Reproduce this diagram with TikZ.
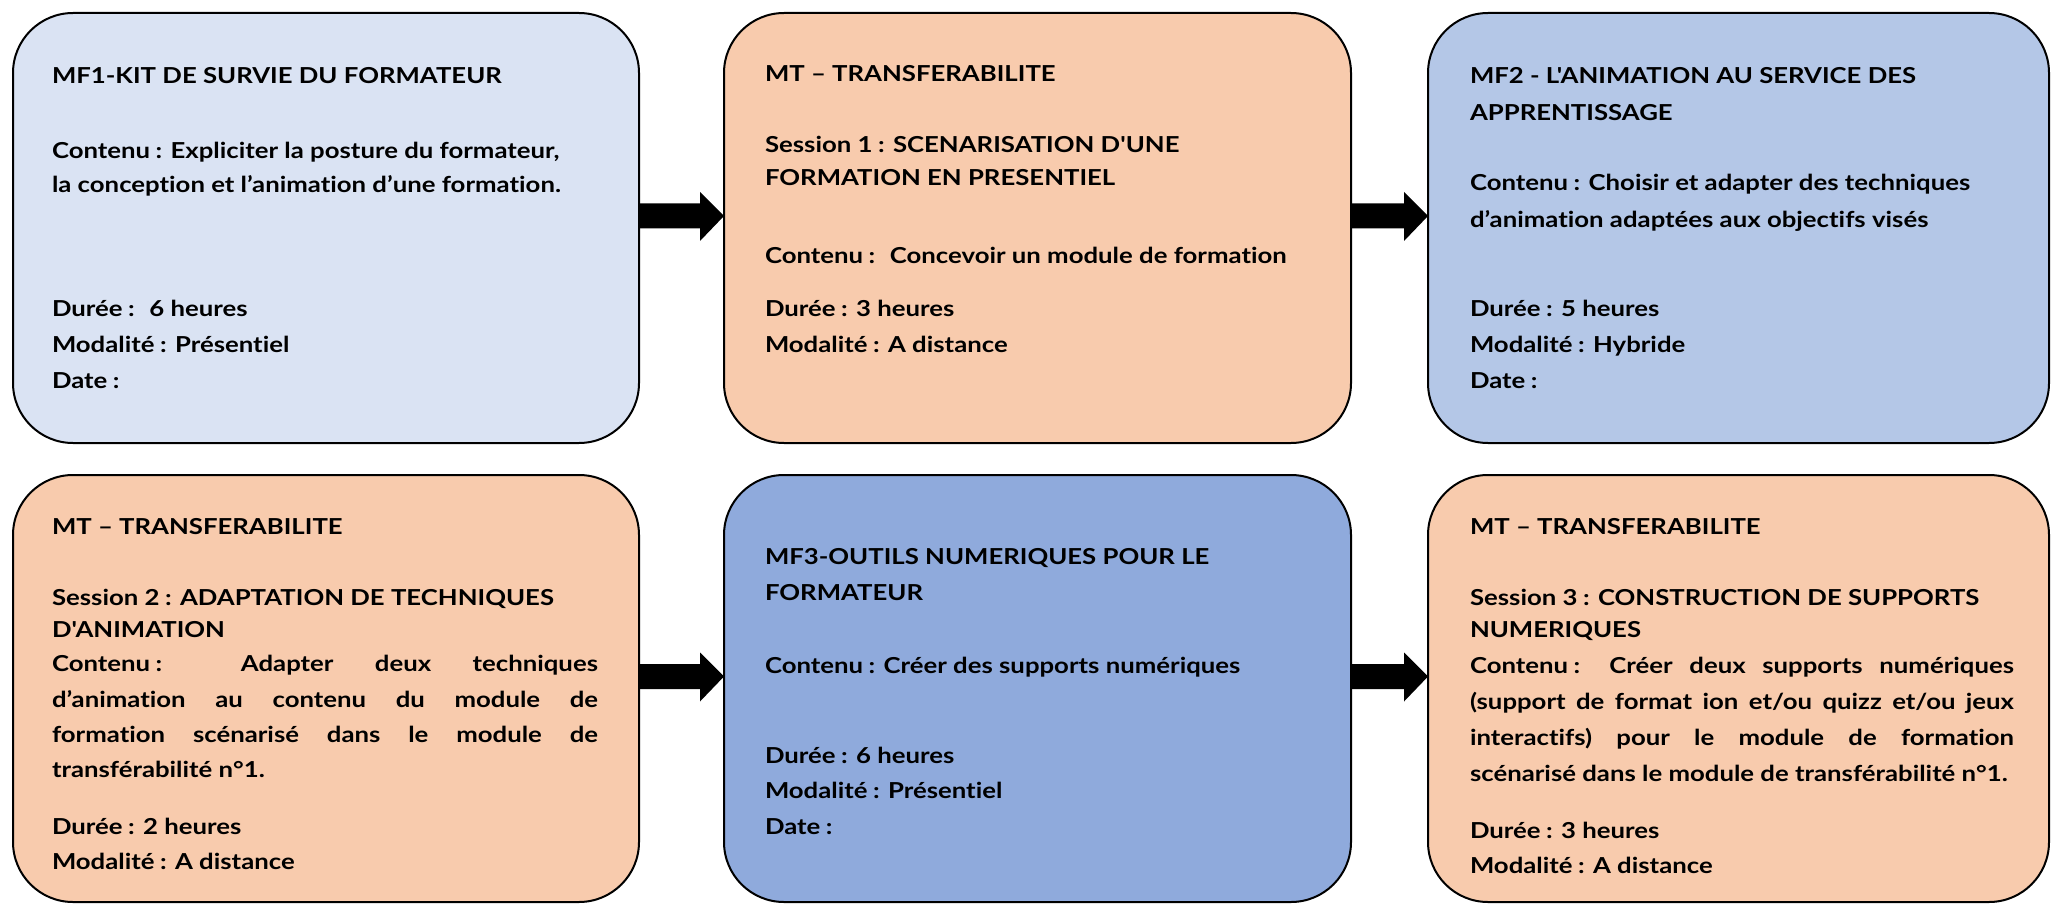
\documentclass[tikz,border=0pt]{standalone}
\usepackage{fontspec}
\setmainfont{Lato}[FakeStretch=1.17, Ligatures={TeXOff,CommonOff}]
\usetikzlibrary{calc}
\definecolor{cLight}{HTML}{DAE3F3}
\definecolor{cMid}{HTML}{B4C7E7}
\definecolor{cDark}{HTML}{8FAADC}
\definecolor{cOrange}{HTML}{F8CBAD}
\tikzset{
  box/.style={draw=black, line width=2pt, rounded corners=60pt, inner sep=0pt, outer sep=0pt},
  txt/.style={anchor=base west, inner sep=0pt, outer sep=0pt, font=\fontsize{22}{26}\selectfont\bfseries},
  blockarrow/.style={fill=black}
}
\newcommand\tline[4]{\node[txt] (#1) at (#2,#3) {#4};}
\newcommand\jline[5]{\node[txt] (#1) at (#2,#3) {\makebox[#4pt][s]{#5}};}
\newcommand\fsp{\kern0.25em}
\newcommand\blockarr[2]{%
  \fill[blockarrow] ($(#1.east)+(0,-24.5)$) -- ($(#2.west)+(-24,-24.5)$) -- ($(#2.west)+(-24,-36)$)
    -- ($(#2.west)+(0,-12)$) -- ($(#2.west)+(-24,13)$) -- ($(#2.west)+(-24,0.5)$)
    -- ($(#1.east)+(0,0.5)$) -- cycle;}
\begin{document}
\begin{tikzpicture}[x=1pt,y=-1pt]
\useasboundingbox (0,0) rectangle (2051,904);
% boxes
\node[box, fill=cLight,  minimum width=626pt, minimum height=430pt] (b1) at (326,228) {};
\node[box, fill=cOrange, minimum width=627pt, minimum height=430pt] (b2) at (1037.5,228) {};
\node[box, fill=cMid,    minimum width=621pt, minimum height=430pt] (b3) at (1738.5,228) {};
\node[box, fill=cOrange, minimum width=626pt, minimum height=427pt] (b4) at (326,688.5) {};
\node[box, fill=cDark,   minimum width=627pt, minimum height=427pt] (b5) at (1037.5,688.5) {};
\node[box, fill=cOrange, minimum width=621pt, minimum height=427pt] (b6) at (1738.5,688.5) {};
% arrows
\blockarr{b1}{b2}
\blockarr{b2}{b3}
\blockarr{b4}{b5}
\blockarr{b5}{b6}
% box 1
\tline{a1}{52}{84}{MF1-KIT DE SURVIE DU FORMATEUR}
\tline{a2}{52}{159}{Contenu\fsp: Expliciter la posture du formateur,}
\tline{a3}{52}{193}{la conception et l’animation d’une formation.}
\tline{a4}{52}{316}{Durée\fsp:~ 6 heures}
\tline{a5}{52}{352}{Modalité\fsp: Présentiel}
\tline{a6}{52}{388}{Date\fsp:}
% box 2
\tline{c1}{765}{82}{MT – TRANSFERABILITE}
\tline{c2}{765}{153}{Session 1\fsp: SCENARISATION D'UNE}
\tline{c3}{765}{186}{FORMATION EN PRESENTIEL}
\tline{c4}{765}{263}{Contenu\fsp:~ Concevoir un module de formation}
\tline{c5}{765}{316}{Durée\fsp: 3 heures}
\tline{c6}{765}{352}{Modalité\fsp: A distance}
% box 3
\tline{d1}{1470}{84}{MF2 - L'ANIMATION AU SERVICE DES}
\tline{d2}{1470}{121}{APPRENTISSAGE}
\tline{d3}{1470}{191}{Contenu\fsp: Choisir et adapter des techniques}
\tline{d4}{1470}{228}{d’animation adaptées aux objectifs visés}
\tline{d5}{1470}{316}{Durée\fsp: 5 heures}
\tline{d6}{1470}{352}{Modalité\fsp: Hybride}
\tline{d7}{1470}{388}{Date\fsp:}
% box 4
\tline{e1}{52}{534}{MT – TRANSFERABILITE}
\tline{e2}{52}{605}{Session 2\fsp: ADAPTATION DE TECHNIQUES}
\tline{e3}{52}{637}{D'ANIMATION}
\jline{e4}{52}{671}{546}{Contenu\fsp: Adapter deux techniques}
\jline{e5}{52}{707}{546}{d’animation au contenu du module de}
\jline{e6}{52}{742}{546}{formation scénarisé dans le module de}
\tline{e7}{52}{777}{transférabilité n°1.}
\tline{e8}{52}{834}{Durée\fsp: 2 heures}
\tline{e9}{52}{869}{Modalité\fsp: A distance}
% box 5
\tline{f1}{765}{564}{MF3-OUTILS NUMERIQUES POUR LE}
\tline{f2}{765}{600}{FORMATEUR}
\tline{f3}{765}{673}{Contenu\fsp: Créer des supports numériques}
\tline{f4}{765}{763}{Durée\fsp: 6 heures}
\tline{f5}{765}{798}{Modalité\fsp: Présentiel}
\tline{f6}{765}{834}{Date\fsp:}
% box 6
\tline{g1}{1470}{534}{MT – TRANSFERABILITE}
\tline{g2}{1470}{605}{Session 3\fsp: CONSTRUCTION DE SUPPORTS}
\tline{g3}{1470}{637}{NUMERIQUES}
\jline{g4}{1470}{673}{544}{Contenu\fsp: Créer deux supports numériques}
\jline{g5}{1470}{709}{544}{(support de format ion et/ou quizz et/ou jeux}
\jline{g6}{1470}{745}{544}{interactifs) pour le module de formation}
\tline{g7}{1470}{781}{scénarisé dans le module de transférabilité n°1.}
\tline{g8}{1470}{838}{Durée\fsp: 3 heures}
\tline{g9}{1470}{873}{Modalité\fsp: A distance}
\end{tikzpicture}
\end{document}
